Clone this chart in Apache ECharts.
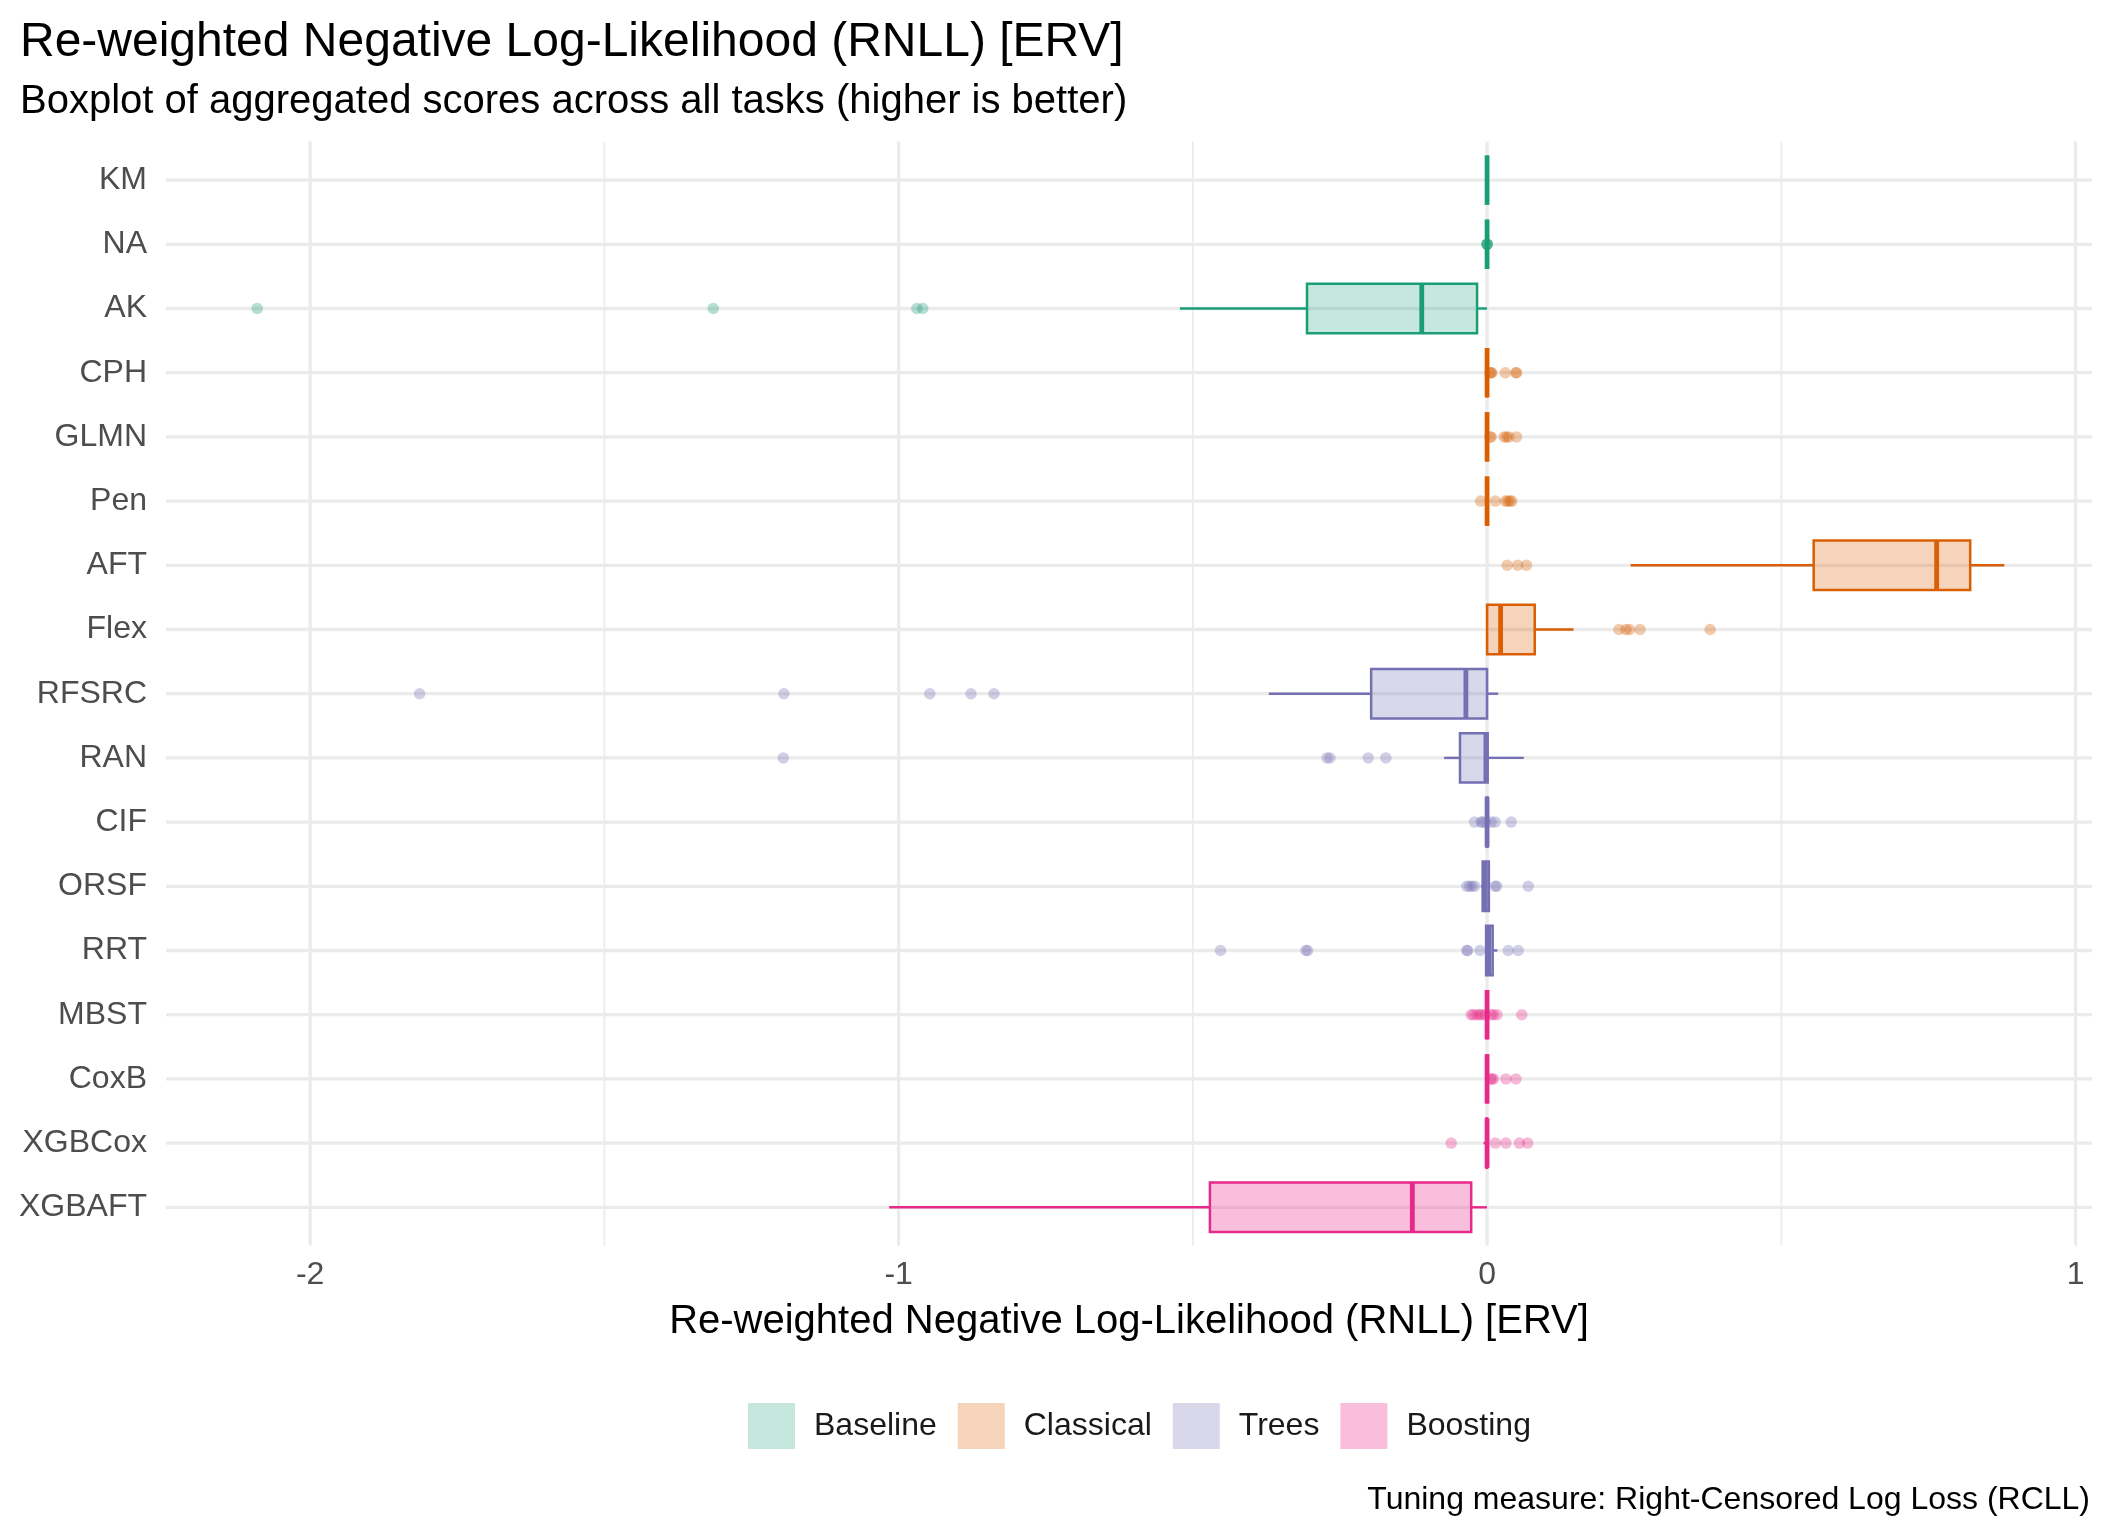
<!DOCTYPE html>
<html>
<head>
<meta charset="utf-8">
<script src="https://cdn.jsdelivr.net/npm/echarts@6/dist/echarts.min.js"></script>
<style>
html,body{margin:0;padding:0;background:#ffffff;}
#chart{width:2112px;height:1536px;}
</style>
</head>
<body>
<div id="chart"></div>
<script>
// ---------------- data ----------------
const categories = ['KM','NA','AK','CPH','GLMN','Pen','AFT','Flex','RFSRC','RAN','CIF','ORSF','RRT','MBST','CoxB','XGBCox','XGBAFT'];
const groups = ['Baseline','Classical','Trees','Boosting'];
const modelGroup = [0,0,0,1,1,1,1,1,2,2,2,2,2,3,3,3,3];

const boxMin    = [0, 0, -0.522, 0, 0, 0, 0.244, 0,     -0.371, -0.073, -0.001, -0.0102, -0.0017, 0, 0, -0.006, -1.016];
const boxQ1     = [0, 0, -0.306, 0, 0, 0, 0.555, 0,     -0.197, -0.046, -0.001, -0.0075, -0.0017, 0, 0, -0.001, -0.471];
const boxMedian = [0, 0, -0.111, 0, 0, 0, 0.764, 0.023, -0.036, -0.002,  0,     -0.003,   0.003,  0, 0,  0,     -0.127];
const boxQ3     = [0, 0, -0.017, 0, 0, 0, 0.821, 0.081,  0,      0.001,  0.001,  0.003,   0.0095, 0, 0,  0,     -0.027];
const boxMax    = [0, 0,  0,     0, 0, 0, 0.879, 0.147,  0.019,  0.0625, 0.001,  0.003,   0.0175, 0, 0,  0,      0];

const outKM     = [];
const outNA     = [0, 0, 0, 0];
const outAK     = [-2.09, -1.315, -0.969, -0.959];
const outCPH    = [0.005, 0.007, 0.008, 0.031, 0.049, 0.050];
const outGLMN   = [0.005, 0.007, 0.029, 0.033, 0.037, 0.050];
const outPen    = [-0.011, 0.014, 0.031, 0.035, 0.039, 0.042];
const outAFT    = [0.034, 0.052, 0.067];
const outFlex   = [0.224, 0.236, 0.242, 0.260, 0.379];
const outRFSRC  = [-1.814, -1.195, -0.947, -0.877, -0.838];
const outRAN    = [-1.196, -0.272, -0.267, -0.202, -0.172];
const outCIF    = [-0.0215, -0.010, -0.008, -0.003, 0.007, 0.0136, 0.041];
const outORSF   = [-0.0345, -0.030, -0.0255, -0.021, 0.0136, 0.0164, 0.070];
const outRRT    = [-0.453, -0.308, -0.305, -0.0345, -0.033, -0.012, 0.036, 0.053];
const outMBST   = [-0.027, -0.023, -0.017, -0.012, -0.009, -0.003, 0.007, 0.011, 0.017, 0.059];
const outCoxB   = [0.006, 0.008, 0.011, 0.032, 0.049];
const outXGBCox = [-0.061, 0.014, 0.032, 0.055, 0.069];
const outXGBAFT = [];
const outliers = [outKM, outNA, outAK, outCPH, outGLMN, outPen, outAFT, outFlex, outRFSRC, outRAN, outCIF, outORSF, outRRT, outMBST, outCoxB, outXGBCox, outXGBAFT];

const xTickLabels = [-2, -1, 0, 1];
const xMajorGrid = [-2, -1, 0, 1];
const xMinorGrid = [-1.5, -0.5, 0.5];

const titleText = 'Re-weighted Negative Log-Likelihood (RNLL) [ERV]';
const subtitleText = 'Boxplot of aggregated scores across all tasks (higher is better)';
const xAxisTitle = 'Re-weighted Negative Log-Likelihood (RNLL) [ERV]';
const captionText = 'Tuning measure: Right-Censored Log Loss (RCLL)';

// ---------------- style ----------------
const FONT = 'Liberation Sans, Arial, Helvetica, sans-serif';
const strokeColors = ['#1B9E77', '#D95F02', '#7570B3', '#E7298A'];
const fillColors = ['rgba(27,158,119,0.25)', 'rgba(217,95,2,0.27)', 'rgba(117,112,179,0.28)', 'rgba(231,41,138,0.3)'];
const GRID_COLOR = '#EBEBEB';

const chart = echarts.init(document.getElementById('chart'), null, {renderer: 'canvas'});

function makeBoxRenderer(gi) {
  return function (params, api) {
    const ci = api.value(0);
    const pMin = api.coord([api.value(1), ci]);
    const pQ1 = api.coord([api.value(2), ci]);
    const pMed = api.coord([api.value(3), ci]);
    const pQ3 = api.coord([api.value(4), ci]);
    const pMax = api.coord([api.value(5), ci]);
    const band = api.size([0, 1])[1];
    const h = band * 0.77;
    const y = pMed[1];
    const stroke = strokeColors[gi];
    return {
      type: 'group',
      children: [
        {type: 'line', shape: {x1: pMin[0], y1: y, x2: pQ1[0], y2: y}, style: {stroke: stroke, lineWidth: 2.4}},
        {type: 'line', shape: {x1: pQ3[0], y1: y, x2: pMax[0], y2: y}, style: {stroke: stroke, lineWidth: 2.4}},
        {type: 'rect', shape: {x: pQ1[0], y: y - h / 2, width: pQ3[0] - pQ1[0], height: h},
          style: {fill: fillColors[gi], stroke: stroke, lineWidth: 2.5}},
        {type: 'line', shape: {x1: pMed[0], y1: y - h / 2, x2: pMed[0], y2: y + h / 2},
          style: {stroke: stroke, lineWidth: 4.8}}
      ]
    };
  };
}

const series = [];

// horizontal grid lines at category centres
series.push({
  type: 'custom', name: 'hgrid', silent: true, z: 0,
  data: categories.map((c, i) => [0, i]),
  encode: {x: 0, y: 1},
  renderItem: function (params, api) {
    const cs = params.coordSys;
    const p = api.coord([0, api.value(1)]);
    return {type: 'line', shape: {x1: cs.x, y1: p[1], x2: cs.x + cs.width, y2: p[1]},
      style: {stroke: GRID_COLOR, lineWidth: 3.3}};
  }
});
// vertical grid lines (major + minor)
series.push({
  type: 'custom', name: 'vgrid', silent: true, z: 0,
  data: xMajorGrid.map(v => [v, 0, 3.3]).concat(xMinorGrid.map(v => [v, 0, 1.7])),
  encode: {x: 0, y: 1},
  renderItem: function (params, api) {
    const cs = params.coordSys;
    const p = api.coord([api.value(0), 0]);
    const ext = cs.height / categories.length * 0.1;
    return {type: 'line', shape: {x1: p[0], y1: cs.y - ext, x2: p[0], y2: cs.y + cs.height + ext},
      style: {stroke: GRID_COLOR, lineWidth: api.value(2)}};
  }
});

groups.forEach((g, gi) => {
  const boxData = [];
  const ptData = [];
  categories.forEach((c, ci) => {
    if (modelGroup[ci] !== gi) return;
    boxData.push([ci, boxMin[ci], boxQ1[ci], boxMedian[ci], boxQ3[ci], boxMax[ci]]);
    outliers[ci].forEach(v => ptData.push([v, ci]));
  });
  series.push({
    type: 'custom', name: g, z: 2,
    itemStyle: {color: fillColors[gi]},
    data: boxData,
    encode: {x: [1, 2, 3, 4, 5], y: 0},
    renderItem: makeBoxRenderer(gi)
  });
  series.push({
    type: 'scatter', name: g + ' outliers', z: 3, silent: true,
    symbol: 'circle', symbolSize: 11.5,
    itemStyle: {color: strokeColors[gi], opacity: 0.33},
    data: ptData
  });
});

const option = {
  backgroundColor: '#ffffff',
  animation: false,
  title: [
    {text: titleText, left: 20, top: 19, padding: 0,
      textStyle: {fontFamily: FONT, fontSize: 48, fontWeight: 'normal', color: '#000000'}},
    {text: subtitleText, left: 20, top: 82, padding: 0,
      textStyle: {fontFamily: FONT, fontSize: 40, fontWeight: 'normal', color: '#000000'}},
    {text: captionText, right: 22, top: 1484, padding: 0,
      textStyle: {fontFamily: FONT, fontSize: 32, fontWeight: 'normal', color: '#000000'}}
  ],
  legend: {
    data: groups.map(g => ({name: g, icon: 'rect'})),
    left: 748, top: 1403, padding: 0,
    itemWidth: 47, itemHeight: 46, itemGap: 21,
    selectedMode: false,
    itemStyle: {borderWidth: 0},
    textStyle: {fontFamily: FONT, fontSize: 32, color: '#1A1A1A', padding: [0, 0, 0, 14]}
  },
  grid: {left: 166, right: 20, top: 148, height: 1091.4, containLabel: false},
  xAxis: {
    type: 'value', min: -2.245, max: 1.028,
    splitLine: {show: false}, axisLine: {show: false}, axisTick: {show: false},
    axisLabel: {customValues: xTickLabels, fontFamily: FONT, fontSize: 32, color: '#4D4D4D', margin: 20},
    name: xAxisTitle, nameLocation: 'middle', nameGap: 63,
    nameTextStyle: {fontFamily: FONT, fontSize: 40, color: '#000000'}
  },
  yAxis: {
    type: 'category', data: categories, inverse: true,
    axisLine: {show: false}, axisTick: {show: false}, splitLine: {show: false},
    axisLabel: {fontFamily: FONT, fontSize: 32, color: '#4D4D4D', margin: 19}
  },
  series: series
};
chart.setOption(option);
</script>
</body>
</html>
